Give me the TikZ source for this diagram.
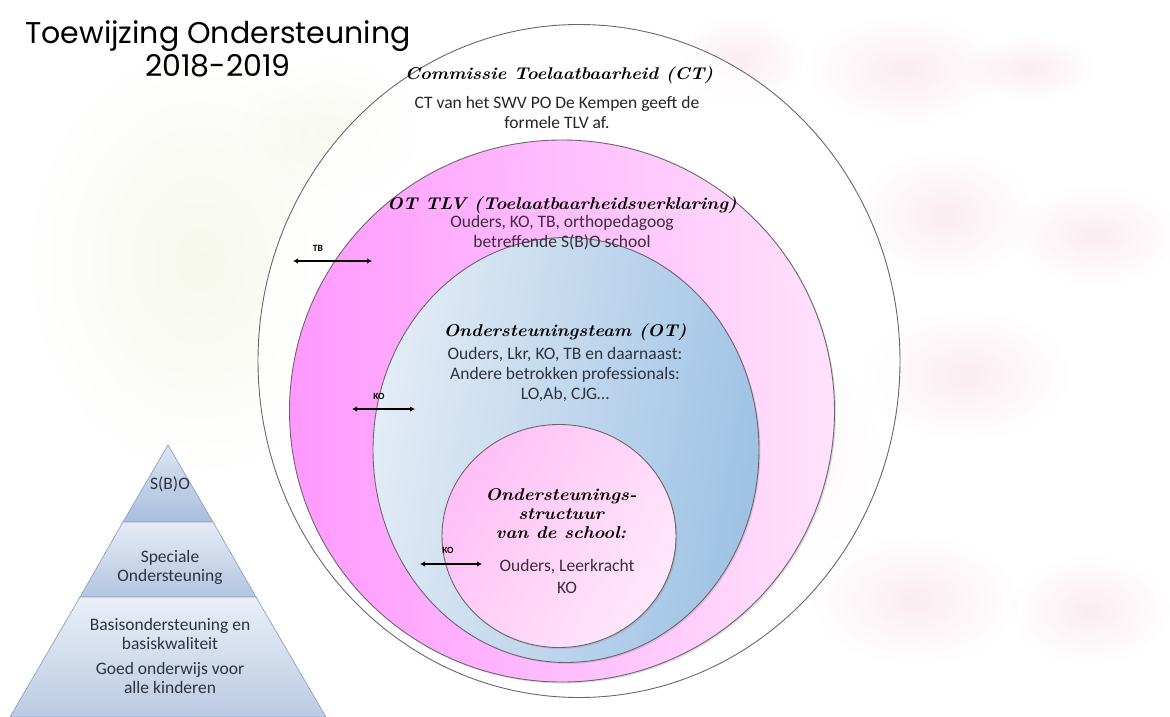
\documentclass[tikz,border=0pt]{standalone}
\usepackage{fontspec}
\setmainfont{Carlito}
\newfontfamily\titlefont{Poppins}
\newfontfamily\handfont[FakeStretch=1.08]{Latin Modern Roman}
\usetikzlibrary{shapes.geometric,arrows.meta,fadings,shadows}
\tikzfading[name=softblob, inner color=transparent!30, outer color=transparent!100]
\definecolor{blobpink}{HTML}{F3BFCF}
\definecolor{blobgreen}{HTML}{E5EAC6}
\definecolor{tlvL}{HTML}{FF99FF}
\definecolor{tlvR}{HTML}{FFE2FB}
\definecolor{otL}{HTML}{E3ECF6}
\definecolor{otR}{HTML}{9EC2E4}
\definecolor{schL}{HTML}{FFBFF6}
\definecolor{schR}{HTML}{FFE8FB}
\definecolor{pyrTop}{HTML}{DCE4F2}
\definecolor{pyrBot}{HTML}{AABEDC}
\definecolor{pyrEdge}{HTML}{8FA3C2}
\definecolor{txtpink}{HTML}{3E2C40}
\definecolor{txtblue}{HTML}{2C3442}
\definecolor{rimgray}{HTML}{6E6470}
\begin{document}
\begin{tikzpicture}[x=1pt,y=-1pt,
  circ/.style={ellipse, inner sep=0pt, outer sep=0pt, draw=rimgray, line width=0.9pt},
  headtxt/.style={font=\fontsize{17}{19}\selectfont\handfont\bfseries\itshape, text=black, align=center, inner sep=0pt},
  bodytxt/.style={font=\fontsize{17.5}{20}\selectfont, align=center, inner sep=0pt},
  pyrtxt/.style={font=\fontsize{17.5}{19}\selectfont, text=txtblue, align=center, inner sep=0pt},
  lbl/.style={font=\fontsize{9.5}{10}\selectfont\bfseries, inner sep=0pt},
  arr/.style={{Latex[length=5pt,width=5.5pt]}-{Latex[length=5pt,width=5.5pt]}, line width=1.6pt, black},
  blob/.style={fill=blobpink, path fading=softblob, opacity=0.4},
  layer/.style={draw=pyrEdge, line width=0.7pt}
]
\useasboundingbox (0,0) rectangle (1170,717);
\fill[white] (0,0) rectangle (1170,717);

% faint watercolour background
\fill[blobgreen, path fading=softblob, opacity=0.45] (200,260) ellipse (170 and 210);
\fill[blobgreen, path fading=softblob, opacity=0.35] (330,130) ellipse (90 and 70);
\fill[blob] (905,70) ellipse (100 and 55);
\fill[blob] (1030,68) ellipse (65 and 32);
\fill[blob] (945,215) ellipse (90 and 65);
\fill[blob] (1095,235) ellipse (85 and 50);
\fill[blob] (965,375) ellipse (105 and 65);
\fill[blob] (915,600) ellipse (105 and 65);
\fill[blob] (1090,610) ellipse (80 and 55);
\fill[blob] (740,60) ellipse (65 and 45);
\fill[blob] (820,460) ellipse (60 and 100);

% nested circles
\node[circ, fill=white, fill opacity=0.7, minimum width=642pt, minimum height=673pt] (ct) at (579,361) {};
\node[circ, left color=tlvL, right color=tlvR, drop shadow={opacity=0.25,shadow xshift=1.5pt,shadow yshift=-1.5pt}, minimum width=545pt, minimum height=542pt] (tlv) at (562,411) {};
\node[circ, shading=axis, left color=otL, right color=otR, shading angle=80, drop shadow={opacity=0.25,shadow xshift=1.5pt,shadow yshift=-1.5pt}, minimum width=386pt, minimum height=425pt] (ot) at (566,450) {};
\node[circ, shading=axis, left color=schL, right color=schR, shading angle=60, drop shadow={opacity=0.25,shadow xshift=1.5pt,shadow yshift=-1.5pt}, minimum width=234pt, minimum height=223pt] (school) at (559,536) {};

% title
\node[font=\fontsize{30}{33}\selectfont\titlefont, align=center, inner sep=0pt] (title) at (218,49) {Toewijzing Ondersteuning\\2018-2019};

% texts in circles
\node[headtxt] (cthead) at (559,75) {Commissie Toelaatbaarheid (CT)};
\node[bodytxt, text=black!85] (ctbody) at (557,112) {CT van het SWV PO De Kempen geeft de\\formele TLV af.};

\node[headtxt] (tlvhead) at (562,205) {OT TLV (Toelaatbaarheidsverklaring)};
\node[bodytxt, text=txtpink] (tlvbody) at (562,233) {Ouders, KO, TB, orthopedagoog\\betreffende S(B)O school};

\node[headtxt] (othead) at (565,332) {Ondersteuningsteam (OT)};
\node[bodytxt, text=txtblue] (otbody) at (565,375) {Ouders, Lkr, KO, TB en daarnaast:\\Andere betrokken professionals:\\LO,Ab, CJG\ldots};

\node[headtxt] (schhead) at (561,514) {Ondersteunings-\\structuur\\van de school:};
\node[bodytxt, text=txtpink, font=\fontsize{17.5}{22}\selectfont] (schbody) at (567,576) {Ouders, Leerkracht\\KO};

% arrows
\coordinate (tbL) at (293,261);
\coordinate (tbR) at (372,261);
\draw[arr] (tbL) -- (tbR);
\node[lbl] (tblbl) at (318,248) {TB};

\coordinate (ko1L) at (352,409);
\coordinate (ko1R) at (415,409);
\draw[arr] (ko1L) -- (ko1R);
\node[lbl] (ko1lbl) at (379,396) {KO};

\coordinate (ko2L) at (420,564);
\coordinate (ko2R) at (482,564);
\draw[arr] (ko2L) -- (ko2R);
\node[lbl] (ko2lbl) at (448,550) {KO};

% pyramid
\coordinate (apex) at (168,445);
\coordinate (a1L) at (123,522);
\coordinate (a1R) at (213,522);
\coordinate (a2L) at (80,597);
\coordinate (a2R) at (256,597);
\coordinate (a3L) at (10,717);
\coordinate (a3R) at (326,717);
\draw[layer, top color=pyrTop, bottom color=pyrBot] (apex) -- (a1R) -- (a1L) -- cycle;
\draw[layer, top color=pyrTop!70!white, bottom color=pyrBot!90] (a1L) -- (a1R) -- (a2R) -- (a2L) -- cycle;
\draw[layer, top color=pyrTop!60!white, bottom color=pyrBot!80!white] (a2L) -- (a2R) -- (a3R) -- (a3L) -- cycle;

\node[pyrtxt] (sbo) at (170,484) {S(B)O};
\node[pyrtxt] (spec) at (170,567) {Speciale\\Ondersteuning};
\node[pyrtxt] (basis) at (170,634) {Basisondersteuning en\\basiskwaliteit};
\node[pyrtxt] (goed) at (170,678) {Goed onderwijs voor\\alle kinderen};
\end{tikzpicture}
\end{document}
